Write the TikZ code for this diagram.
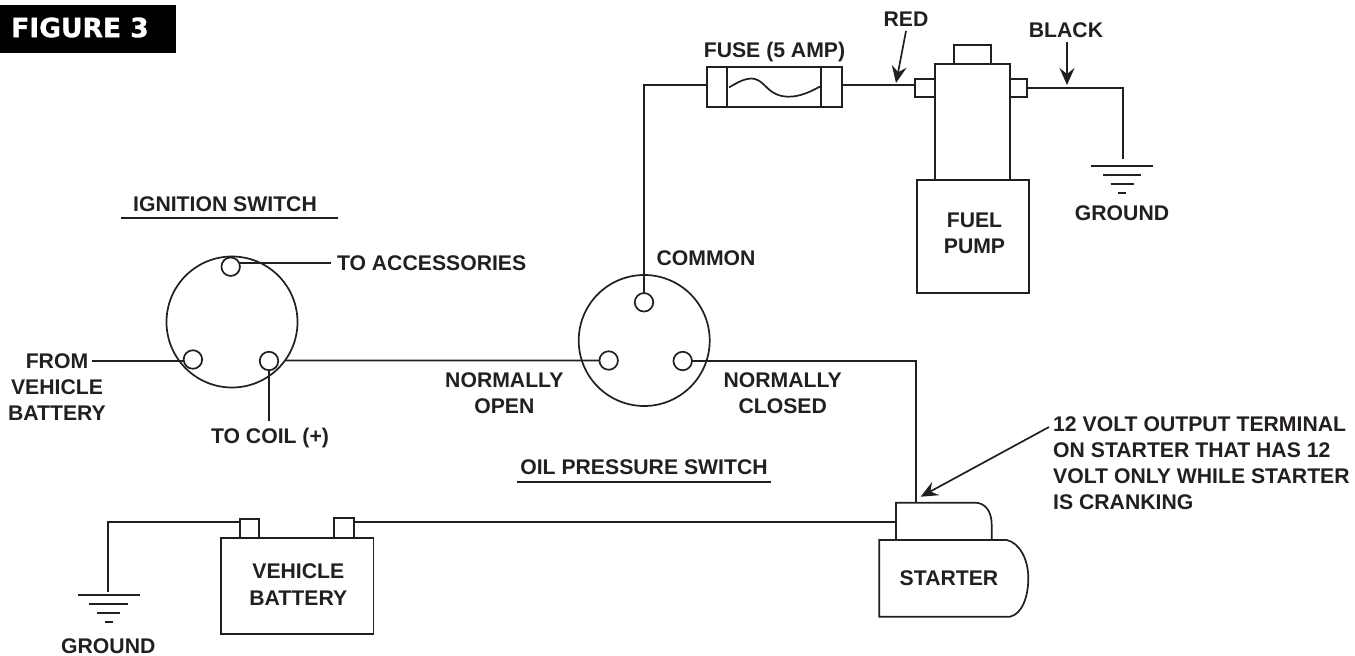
\documentclass[tikz,border=0pt]{standalone}
\usepackage{fontspec}
\usepackage{xcolor}
\usepackage{tikz}
\usetikzlibrary{arrows.meta}
\setmainfont{Liberation Sans}
\newfontfamily\figfont[BoldFeatures={FakeBold=1.2}]{DejaVu Sans}
\definecolor{inkdark}{HTML}{231F20}

\tikzset{
  wire/.style={inkdark, line width=1.7pt},
  outline/.style={wire, draw, fill=white, inner sep=0pt, outer sep=0pt},
  terminal/.style={outline, circle, minimum size=18.5pt},
  switchbody/.style={outline, circle, minimum size=131pt},
  tag/.style={text=inkdark, inner sep=0pt, align=center, font=\bfseries\fontsize{21.2}{26.3}\selectfont},
  pointer/.style={wire, -{Stealth[length=17pt,width=15pt,inset=6pt]}},
}

\begin{document}
\begin{tikzpicture}[x=1pt, y=-1pt]
\useasboundingbox (0,0) rectangle (1355,656);

% Figure title
\node[fill=black, minimum width=176pt, minimum height=48pt, inner sep=0pt, outer sep=0pt] (figbox) at (88,29) {};
\node[text=white, inner sep=0pt, font=\figfont\bfseries\fontsize{26.5}{30}\selectfont] (figtitle) at (80,27.5) {FIGURE 3};

% Fuse
\node[outline, minimum width=135pt, minimum height=39.5pt] (fuse) at (774.5,87) {};
\coordinate (fusecapl) at (726.8,87);
\coordinate (fusecapr) at (821,87);
\draw[wire] (fusecapl |- fuse.north) -- (fusecapl |- fuse.south);
\draw[wire] (fusecapr |- fuse.north) -- (fusecapr |- fuse.south);
\draw[wire] (729,87.5) .. controls (738,82) and (747,77) .. (755,79)
  .. controls (766,82) and (768,96) .. (788,96.7) .. controls (800,97) and (812,91) .. (820,86.5);
\node[tag] (fuselbl) at (774.5,52.5) {FUSE (5 AMP)};

% Fuel pump
\node[outline, minimum width=37pt, minimum height=19pt] (pumpcap) at (972.5,54.5) {};
\node[outline, minimum width=75pt, minimum height=116pt] (pumpneck) at (972.5,122) {};
\node[outline, minimum width=112pt, minimum height=113pt] (pumpbody) at (973,236.5) {};
\node[outline, minimum width=20pt, minimum height=18.6pt] (pumpin) at (925,88) {};
\node[outline, minimum width=17pt, minimum height=18.6pt] (pumpout) at (1018.5,88) {};
\node[tag] (pumplbl) at (974.5,233.5) {FUEL\\PUMP};

% Pump ground
\coordinate (pumpgnd) at (1123,159);
\foreach \dy/\hw in {165.7/31, 174.7/19, 183.7/11.5, 192.7/4}
{
    \draw[wire] (1122-\hw, \dy) -- (1122+\hw, \dy);
}
\node[tag] (pumpgndlbl) at (1122,213) {GROUND};

% Wire colour tags
\node[tag] (redlbl) at (906,19.5) {RED};
\node[tag] (blacklbl) at (1066,30) {BLACK};
\coordinate (redtip) at (896,83);
\coordinate (blacktip) at (1067,85);
\draw[pointer] (906,31) -- (redtip);
\draw[pointer] (1067,42) -- (blacktip);

% Ignition switch
\node[tag] (ignlbl) at (225,204) {IGNITION SWITCH};
\coordinate (ignrulel) at (120.7,217.7);
\coordinate (ignruler) at (338,217.7);
\draw[wire] (ignrulel) -- (ignruler);
\node[switchbody] (ignsw) at (232,322) {};
\node[terminal] (ignacc) at (230.7,266.7) {};
\node[terminal] (ignbat) at (192.9,359.5) {};
\node[terminal] (igncoil) at (269,361) {};
\node[tag, anchor=west] (acclbl) at (336.8,263.3) {TO ACCESSORIES};
\node[tag] (batlbl) at (57,387) {FROM\\VEHICLE\\BATTERY};
\node[tag] (coillbl) at (270,438.5) {TO COIL (+)};
\coordinate (batend) at (92,361);
\draw[wire, shorten >=6pt] (ignacc.east |- acclbl.west) -- (acclbl.west);
\draw[wire] (batend) -- (ignbat.west |- batend);
\draw[wire, shorten >=7pt] (igncoil.south) -- (coillbl.north -| igncoil.south);

% Oil pressure switch
\node[switchbody] (oilsw) at (644.2,340.5) {};
\node[terminal] (oilcom) at (644,302.3) {};
\node[terminal] (oilopen) at (608.7,360.5) {};
\node[terminal] (oilclosed) at (682.7,361) {};
\node[tag] (comlbl) at (706,258.5) {COMMON};
\node[tag] (openlbl) at (504.3,393) {NORMALLY\\OPEN};
\node[tag] (closedlbl) at (782.7,393) {NORMALLY\\CLOSED};
\node[tag] (oillbl) at (644,467.5) {OIL PRESSURE SWITCH};
\coordinate (oilrulel) at (517,482);
\coordinate (oilruler) at (771.3,482);
\draw[wire] (oilrulel) -- (oilruler);

% Starter
\coordinate (startertop) at (916,502.7);
\coordinate (starterside) at (896,522);
\draw[wire] (896,540) -- (896,502.7) -- (975,502.7) .. controls (985,502.7) and (991.7,511) .. (991.7,525) -- (991.7,540);
\draw[wire] (879.3,540) -- (1006.7,540) .. controls (1020,543) and (1028.3,560) .. (1028.3,578)
  .. controls (1028.3,597) and (1022,614) .. (1010,616.7) -- (879.3,616.7) -- cycle;
\node[tag] (starterlbl) at (949,578) {STARTER};
\node[tag, anchor=north west, align=left] (outputlbl) at (1053,416) {12 VOLT OUTPUT TERMINAL\\ON STARTER THAT HAS 12\\VOLT ONLY WHILE STARTER\\IS CRANKING};
\coordinate (outputtail) at (1049,427);
\coordinate (outputtip) at (920.7,496.7);
\draw[pointer] (outputtail) -- (outputtip);

% Vehicle battery
\node[outline, minimum width=19pt, minimum height=19pt] (batneg) at (249.5,528.7) {};
\node[outline, minimum width=20.3pt, minimum height=20pt] (batpos) at (343.8,528.2) {};
\node[outline, minimum width=152.3pt, minimum height=96pt] (battery) at (297.2,586.3) {};
\node[tag] (batterylbl) at (298.3,584.5) {VEHICLE\\BATTERY};

% Battery ground
\coordinate (batgnd) at (107.7,591.7);
\foreach \dy/\hw in {595/31, 604.3/19.5, 613.3/11.5, 622.3/3.7}
{
    \draw[wire] (108.8-\hw, \dy) -- (108.8+\hw, \dy);
}
\node[tag] (batgndlbl) at (108.3,646.5) {GROUND};

% Wiring
\draw[wire] ([yshift=1.7pt]fuse.west) -| (oilcom.north);
\draw[wire] ([yshift=1.7pt]fuse.east) -- ([yshift=2.7pt]pumpin.west);
\draw[wire] (pumpout.east) -| (pumpgnd);
\draw[wire] (ignsw.-36.5) -- (oilopen.west);
\draw[wire] (oilclosed.east) -| (startertop);
\draw[wire] (batpos.east |- starterside) -- (starterside);
\draw[wire] (batneg.west |- starterside) -| (batgnd);

\end{tikzpicture}
\end{document}
